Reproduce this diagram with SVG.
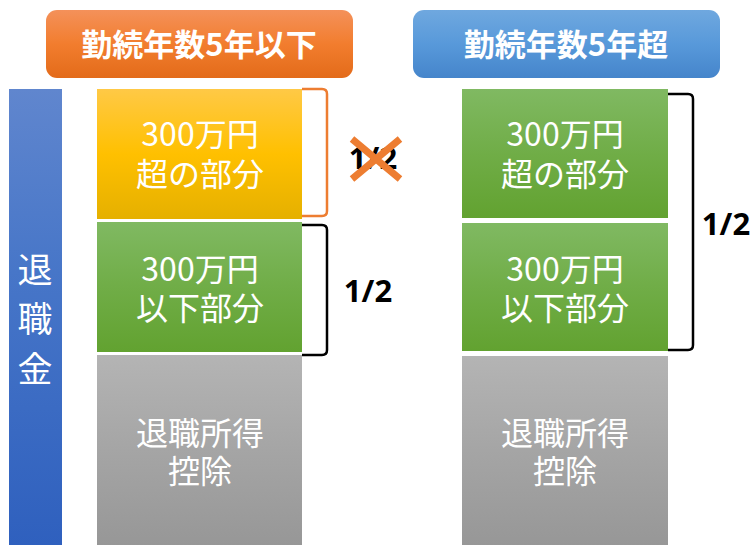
<svg xmlns="http://www.w3.org/2000/svg" width="753" height="545" viewBox="0 0 753 545">
<defs>
<linearGradient id="gOrange" x1="0" y1="0" x2="0" y2="1"><stop offset="0" stop-color="#f4915a"/><stop offset="0.5" stop-color="#f27d2e"/><stop offset="1" stop-color="#e36b1a"/></linearGradient>
<linearGradient id="gBlueH" x1="0" y1="0" x2="0" y2="1"><stop offset="0" stop-color="#6fa8df"/><stop offset="0.5" stop-color="#5899da"/><stop offset="1" stop-color="#4585cb"/></linearGradient>
<linearGradient id="gBar" x1="0" y1="0" x2="0" y2="1"><stop offset="0" stop-color="#6086ce"/><stop offset="0.4" stop-color="#4776c8"/><stop offset="1" stop-color="#2f60be"/></linearGradient>
<linearGradient id="gYellow" x1="0" y1="0" x2="0" y2="1"><stop offset="0" stop-color="#ffc946"/><stop offset="0.5" stop-color="#ffc000"/><stop offset="1" stop-color="#e5b000"/></linearGradient>
<linearGradient id="gGreen" x1="0" y1="0" x2="0" y2="1"><stop offset="0" stop-color="#80b962"/><stop offset="0.5" stop-color="#70ad47"/><stop offset="1" stop-color="#62a230"/></linearGradient>
<linearGradient id="gGray" x1="0" y1="0" x2="0" y2="1"><stop offset="0" stop-color="#b4b4b4"/><stop offset="0.5" stop-color="#a5a5a5"/><stop offset="1" stop-color="#979797"/></linearGradient>
</defs>
<style>
.t{font-family:"Noto Sans CJK JP","Noto Sans",sans-serif;fill:#fff;text-anchor:middle}
.box{font-size:32px}
.hdr{font-size:31px;font-weight:bold}
.bar{font-size:35px}
.half{font-family:"Open Sans","Noto Sans",sans-serif;font-weight:bold;font-size:31px;fill:#000;text-anchor:middle}
.br{fill:none;stroke-width:2.5;stroke-linejoin:round}
</style>
<g id="header-left"><rect x="46" y="10" width="307" height="68" rx="11" fill="url(#gOrange)"/><text class="t hdr" x="199" y="56">勤続年数5年以下</text></g>
<g id="header-right"><rect x="413" y="10" width="307" height="68" rx="11" fill="url(#gBlueH)"/><text class="t hdr" x="566" y="56">勤続年数5年超</text></g>
<g id="bar"><rect x="9" y="89" width="53" height="456" fill="url(#gBar)"/><text class="t bar"><tspan x="35" y="283">退</tspan><tspan x="35" y="332">職</tspan><tspan x="35" y="382">金</tspan></text></g>
<g id="left-over"><rect x="97" y="89" width="205" height="130" fill="url(#gYellow)"/><text class="t box"><tspan x="200" y="146">300万円</tspan><tspan x="200" y="186">超の部分</tspan></text></g>
<g id="left-under"><rect x="97" y="222" width="205" height="130" fill="url(#gGreen)"/><text class="t box"><tspan x="200" y="281">300万円</tspan><tspan x="200" y="320">以下部分</tspan></text></g>
<g id="left-deduct"><rect x="97" y="355" width="205" height="190" fill="url(#gGray)"/><text class="t box"><tspan x="200" y="445">退職所得</tspan><tspan x="200" y="483">控除</tspan></text></g>
<g id="right-over"><rect x="462" y="89" width="206" height="129" fill="url(#gGreen)"/><text class="t box"><tspan x="565" y="146">300万円</tspan><tspan x="565" y="186">超の部分</tspan></text></g>
<g id="right-under"><rect x="462" y="223" width="206" height="128" fill="url(#gGreen)"/><text class="t box"><tspan x="565" y="281">300万円</tspan><tspan x="565" y="320">以下部分</tspan></text></g>
<g id="right-deduct"><rect x="462" y="356" width="206" height="189" fill="url(#gGray)"/><text class="t box"><tspan x="565" y="445">退職所得</tspan><tspan x="565" y="483">控除</tspan></text></g>
<g id="connectors">
<path class="br" stroke="#ed7d31" d="M302,89 L322,89 Q327,89 327,94 L327,211 Q327,216 322,216 L302,216"/>
<path class="br" stroke="#000" d="M302,225 L322,225 Q327,225 327,230 L327,350 Q327,355 322,355 L302,355"/>
<path class="br" stroke="#000" d="M668,94 L688,94 Q693,94 693,99 L693,345 Q693,350 688,350 L668,350"/>
</g>
<g id="labels">
<text class="half" x="373" y="169">1/2</text>
<path d="M352,139 L400,179 M400,139 L352,179" stroke="#ed7d31" stroke-width="7" fill="none"/>
<text class="half" x="368" y="302">1/2</text>
<text class="half" x="726" y="235">1/2</text>
</g>
</svg>
